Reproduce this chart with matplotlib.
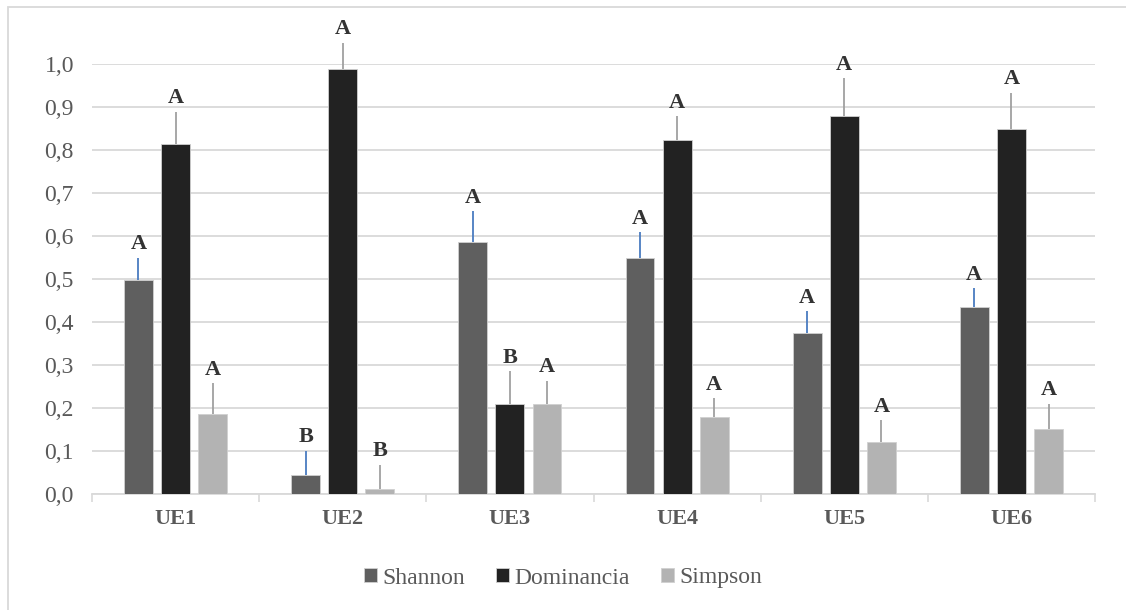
import matplotlib.pyplot as plt
from matplotlib.patches import Rectangle
import numpy as np

plt.rcParams['font.family'] = ['Liberation Serif', 'DejaVu Serif']

# datos
categorias = ["UE1", "UE2", "UE3", "UE4", "UE5", "UE6"]
series = ["Shannon", "Dominancia", "Simpson"]
shannon = [0.498, 0.045, 0.585, 0.550, 0.374, 0.435]
dominancia = [0.814, 0.988, 0.210, 0.823, 0.879, 0.850]
simpson = [0.187, 0.012, 0.210, 0.178, 0.122, 0.152]
err_shannon = [0.052, 0.056, 0.072, 0.059, 0.051, 0.044]
err_dominancia = [0.075, 0.061, 0.076, 0.056, 0.088, 0.083]
err_simpson = [0.071, 0.056, 0.053, 0.045, 0.050, 0.058]
letras_shannon = ["A", "B", "A", "A", "A", "A"]
letras_dominancia = ["A", "A", "B", "A", "A", "A"]
letras_simpson = ["A", "B", "A", "A", "A", "A"]

colores = ['#5f5f5f', '#222222', '#b3b3b3']
colores_err = ['#4a7cc0', '#a0a0a0', '#a0a0a0']

fig = plt.figure(figsize=(11.26, 6.10), dpi=100)
ax = fig.add_axes([92/1126, 1-494/610, (1095-92)/1126, (494-64)/610])

x = np.arange(len(categorias))
ancho = 0.173
paso = 0.222
valores = [shannon, dominancia, simpson]
errores = [err_shannon, err_dominancia, err_simpson]
letras = [letras_shannon, letras_dominancia, letras_simpson]

for i in range(3):
    pos = x + (i - 1) * paso
    ax.bar(pos, valores[i], width=ancho, color=colores[i], edgecolor='#d0d0d0',
           linewidth=0.6, label=series[i], zorder=3)
    eb = ax.errorbar(pos, valores[i], yerr=[np.zeros(6), errores[i]], fmt='none',
                     ecolor=colores_err[i], elinewidth=1.3, capsize=0, zorder=2)
    for lc in eb.lines[2]:
        lc.set_clip_on(False)
    for j in range(6):
        ax.text(pos[j], valores[i][j] + errores[i][j] + 0.008, letras[i][j],
                ha='center', va='bottom', fontsize=16, fontweight='bold',
                color='#333333', clip_on=False)

ax.set_xlim(-0.5, 5.5)
ax.set_ylim(0, 1.0)
ax.set_yticks(np.arange(0, 1.01, 0.1))
ax.set_yticklabels([("%.1f" % v).replace(".", ",") for v in np.arange(0, 1.01, 0.1)])
ax.set_xticks(x)
ax.set_xticklabels(categorias, fontsize=16, fontweight='bold', color='#595959')
ax.set_xticks(np.arange(-0.5, 6, 1), minor=True)
ax.tick_params(axis='x', which='major', length=0, pad=11)
ax.tick_params(axis='x', which='minor', length=6, color='#d9d9d9', width=1.2)
ax.tick_params(axis='y', length=0, labelsize=17, labelcolor='#595959', pad=13)
ax.grid(axis='y', color='#d9d9d9', linewidth=1.3, zorder=0)
for s in ['top', 'right', 'left']:
    ax.spines[s].set_visible(False)
ax.spines['bottom'].set_color('#d9d9d9')
ax.spines['bottom'].set_linewidth(1.3)

leg = fig.legend(loc='center', bbox_to_anchor=(0.5, 1-578/610), ncol=3, frameon=False,
                 fontsize=17, handlelength=0.55, handleheight=0.55, columnspacing=1.3,
                 handletextpad=0.25)
for t in leg.get_texts():
    t.set_color('#595959')

fig.patches.append(Rectangle((8/1126, -0.1), 1.2, 1 - 7/610 + 0.1, transform=fig.transFigure,
                             fill=False, edgecolor='#d9d9d9', linewidth=1.3))

plt.savefig("out.png", dpi=100)
